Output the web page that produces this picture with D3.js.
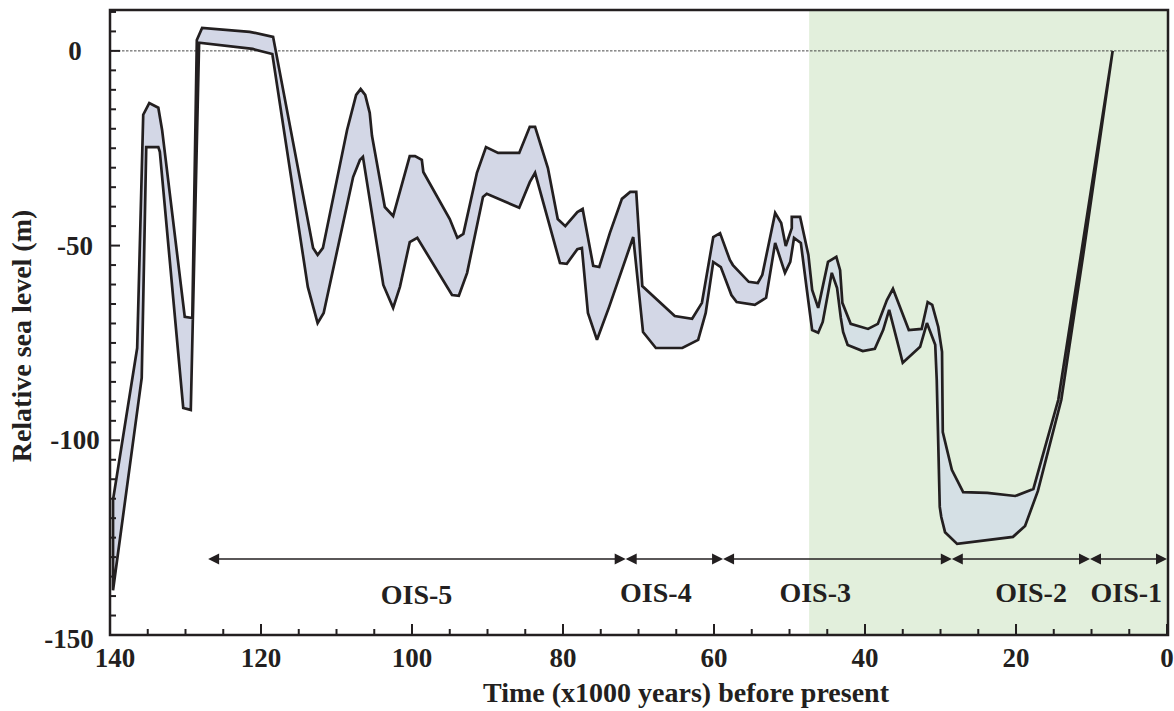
<!DOCTYPE html>
<html>
<head>
<meta charset="utf-8">
<script src="https://cdn.jsdelivr.net/npm/d3@7"></script>
<style>
  html, body { margin: 0; padding: 0; background: #fff; }
  svg { display: block; }
  text { font-family: "Liberation Serif", "Times New Roman", serif; font-weight: bold; fill: #231f20; }
</style>
</head>
<body>
<svg id="chart" width="1174" height="711"></svg>
<script>
// Sea-level envelope: upper (shallow) bound, [age ka, level m]
const upperBound = [
  [139.6,-115.3],[136.4,-76.3],[135.6,-16.4],[134.8,-13.4],[133.6,-14.6],[133.1,-20.3],
  [130.1,-68.3],[129.1,-68.6],[128.5,2.8],[127.8,5.9],[121.5,4.9],[118.4,3.6],
  [113.1,-50.6],[112.5,-52.4],[111.8,-50.6],[108.6,-20.3],[107.4,-11.3],[106.8,-9.8],
  [106.2,-11.3],[105.6,-15.9],[105.3,-21.8],[103.6,-40.1],[102.5,-42.4],[100.3,-27.0],
  [99.6,-27.0],[98.7,-28.0],[98.5,-31.1],[95.0,-43.2],[94.0,-48.0],[93.2,-47.0],
  [91.4,-31.3],[90.2,-24.7],[88.6,-26.2],[85.8,-26.2],[84.4,-19.5],[83.7,-19.5],
  [82.0,-30.1],[80.7,-43.2],[79.7,-45.0],[78.1,-41.4],[77.4,-40.6],[76.0,-55.2],
  [75.2,-55.5],[73.8,-46.8],[72.2,-38.0],[71.1,-36.2],[70.3,-36.2],[69.5,-60.4],
  [65.2,-68.1],[62.9,-68.8],[61.6,-64.7],[60.1,-47.8],[59.2,-46.8],[57.9,-53.7],
  [57.5,-55.0],[55.4,-59.3],[54.2,-59.6],[53.6,-57.5],[51.9,-41.6],[51.1,-44.2],
  [50.5,-50.1],[49.7,-45.5],[49.7,-42.6],[48.6,-42.6],[47.5,-52.4],[47.0,-61.4],
  [46.2,-66.0],[44.9,-54.2],[43.8,-52.9],[43.3,-56.3],[43.0,-64.7],[41.9,-70.1],
  [39.6,-71.4],[38.3,-70.1],[37.1,-64.0],[36.3,-61.1],[34.2,-71.7],[32.5,-71.4],
  [31.7,-64.5],[31.1,-65.2],[30.3,-70.9],[29.8,-77.3],[29.7,-97.9],[28.5,-107.6],
  [27.0,-113.3],[23.8,-113.5],[20.1,-114.3],[17.7,-112.5],[14.4,-89.6],[11.3,-51.1],
  [7.2,0]
];

// Lower (deep) bound, [age ka, level m]
const lowerBound = [
  [139.6,-138.5],[135.8,-84.0],[135.2,-24.7],[133.6,-24.7],[133.4,-25.9],[130.3,-91.7],
  [129.3,-92.2],[128.2,2.1],[121.1,0.5],[118.5,-0.8],[113.8,-60.6],[112.5,-69.9],
  [111.7,-67.3],[107.8,-32.4],[106.9,-28.0],[106.5,-27.2],[103.8,-60.1],[102.5,-66.0],
  [101.6,-60.6],[100.3,-49.1],[99.3,-48.0],[94.7,-62.7],[93.8,-62.9],[92.7,-57.0],
  [90.6,-37.5],[90.1,-36.7],[85.8,-40.3],[84.4,-33.7],[83.7,-31.3],[80.4,-54.5],
  [79.5,-54.7],[78.1,-50.9],[77.5,-50.6],[76.7,-67.3],[75.5,-74.2],[73.9,-65.8],
  [70.7,-47.8],[69.4,-72.2],[67.7,-76.3],[64.2,-76.3],[62.1,-74.2],[61.1,-67.3],
  [60.1,-54.2],[59.1,-55.5],[57.7,-62.7],[57.0,-64.5],[54.6,-65.2],[53.1,-63.4],
  [51.9,-49.3],[50.6,-57.0],[49.9,-54.2],[49.4,-48.0],[48.5,-49.3],[47.7,-61.4],
  [47.0,-71.7],[46.2,-72.4],[45.6,-69.6],[44.4,-57.0],[43.7,-60.9],[43.2,-68.6],
  [42.9,-72.2],[42.3,-75.5],[40.3,-77.1],[38.7,-76.5],[37.6,-71.7],[36.8,-66.5],
  [35.0,-80.1],[32.7,-76.0],[31.8,-69.9],[30.7,-75.5],[30.5,-84.5],[30.1,-117.1],
  [29.9,-119.7],[29.4,-123.6],[27.8,-126.6],[20.4,-124.8],[18.8,-122.0],[17.1,-113.0],
  [14.0,-89.6],[11.0,-51.1],[7.2,0]
];

// Oxygen isotope stages
const oisNames  = ["OIS-5", "OIS-4", "OIS-3", "OIS-2", "OIS-1"];
const oisStart  = [127, 71.7, 58.8, 28.5, 10.2];
const oisEnd    = [71.7, 58.8, 28.5, 10.2, 0];
const oisLabelAt = [99.4, 67.7, 46.6, 18.0, 5.4];

// Shaded interval (ka)
const shadedFrom = 47.4;
const shadedTo = 0;

// Axis ticks
const xMajorTicks = [140, 120, 100, 80, 60, 40, 20, 0];
const yMajorTicks = [0, -50, -100, -150];

(function draw() {
  const svg = d3.select("#chart");
  const plot = { left: 110, right: 1168, top: 10, bottom: 635 };

  const x = d3.scaleLinear().domain([140, -0.13]).range([plot.left, plot.right]);
  const y = d3.scaleLinear().domain([-150, 10.5]).range([plot.bottom, plot.top]);

  const ink = "#231f20";

  // shaded interval
  svg.append("rect")
    .attr("x", x(shadedFrom)).attr("y", plot.top)
    .attr("width", x(shadedTo) - x(shadedFrom) + 1).attr("height", plot.bottom - plot.top)
    .attr("fill", "#e2efdc");

  // present-day sea level
  svg.append("line")
    .attr("x1", plot.left).attr("x2", plot.right)
    .attr("y1", y(0)).attr("y2", y(0))
    .attr("stroke", "#333").attr("stroke-width", 0.9)
    .attr("stroke-dasharray", "2.5,1.5");

  // band fill: lavender on white, paler blue-grey over the shaded interval
  const defs = svg.append("defs");
  const grad = defs.append("linearGradient")
    .attr("id", "bandFill").attr("gradientUnits", "userSpaceOnUse")
    .attr("x1", plot.left).attr("x2", plot.right).attr("y1", 0).attr("y2", 0);
  const split = (x(shadedFrom) - plot.left) / (plot.right - plot.left);
  grad.append("stop").attr("offset", 0).attr("stop-color", "#d3d7e6");
  grad.append("stop").attr("offset", split).attr("stop-color", "#d3d7e6");
  grad.append("stop").attr("offset", split).attr("stop-color", "#d5e0e5");
  grad.append("stop").attr("offset", 1).attr("stop-color", "#d5e0e5");

  const line = d3.line().x(d => x(d[0])).y(d => y(d[1]));
  const outline = upperBound.concat(lowerBound.slice().reverse());

  svg.append("path")
    .attr("d", line(outline) + "Z")
    .attr("fill", "url(#bandFill)")
    .attr("stroke", ink)
    .attr("stroke-width", 2.7)
    .attr("stroke-linejoin", "miter")
    .attr("stroke-miterlimit", 3);

  // axes (ticks point inward)
  const xTicks = d3.range(140, -1, -5);
  const yTicks = d3.range(-150, 11, 5);

  const xAxis = svg.append("g").attr("transform", `translate(0,${plot.bottom})`);
  xAxis.selectAll("line").data(xTicks).join("line")
    .attr("x1", d => x(d)).attr("x2", d => x(d))
    .attr("y1", 0).attr("y2", d => (d % 20 === 0 ? -11 : -6))
    .attr("stroke", ink).attr("stroke-width", 2);
  xAxis.selectAll("text").data(xMajorTicks).join("text")
    .attr("x", d => x(d) + (d === 140 ? 5 : 0)).attr("y", 32)
    .attr("text-anchor", "middle")
    .attr("font-size", 27)
    .text(d => d);

  const yAxis = svg.append("g").attr("transform", `translate(${plot.left},0)`);
  yAxis.selectAll("line").data(yTicks).join("line")
    .attr("y1", d => y(d)).attr("y2", d => y(d))
    .attr("x1", 0).attr("x2", d => (d % 50 === 0 ? 10 : 6))
    .attr("stroke", ink).attr("stroke-width", 2);
  yAxis.selectAll("text").data(yMajorTicks).join("text")
    .attr("x", d => (d === -150 ? -41 : -35))
    .attr("y", d => y(d) + (d === -150 ? 13 : 9))
    .attr("text-anchor", "middle")
    .attr("font-size", 27)
    .text(d => d);

  // frame
  svg.append("rect")
    .attr("x", plot.left).attr("y", plot.top)
    .attr("width", plot.right - plot.left).attr("height", plot.bottom - plot.top)
    .attr("fill", "none").attr("stroke", ink).attr("stroke-width", 2.5);

  // isotope stage arrows
  const arrowY = 559;
  const head = 11, halfW = 5.5;
  const ois = svg.append("g");
  oisNames.forEach((name, i) => {
    const a = x(oisStart[i]), b = x(oisEnd[i]);
    ois.append("line")
      .attr("x1", a + 2).attr("x2", b - 2)
      .attr("y1", arrowY).attr("y2", arrowY)
      .attr("stroke", ink).attr("stroke-width", 1.4);
    ois.append("path")
      .attr("d", `M${a},${arrowY}L${a + head},${arrowY - halfW}L${a + head},${arrowY + halfW}Z`)
      .attr("fill", ink);
    ois.append("path")
      .attr("d", `M${b},${arrowY}L${b - head},${arrowY - halfW}L${b - head},${arrowY + halfW}Z`)
      .attr("fill", ink);
    ois.append("text")
      .attr("x", x(oisLabelAt[i]))
      .attr("y", i === 0 ? 604 : 602)
      .attr("text-anchor", "middle")
      .attr("font-size", 28)
      .text(name);
  });

  // axis titles
  svg.append("text")
    .attr("x", 686).attr("y", 702)
    .attr("text-anchor", "middle")
    .attr("font-size", 28)
    .text("Time (x1000 years) before present");

  svg.append("text")
    .attr("transform", "translate(31,336) rotate(-90)")
    .attr("text-anchor", "middle")
    .attr("font-size", 28)
    .text("Relative sea level (m)");
})();
</script>
</body>
</html>
